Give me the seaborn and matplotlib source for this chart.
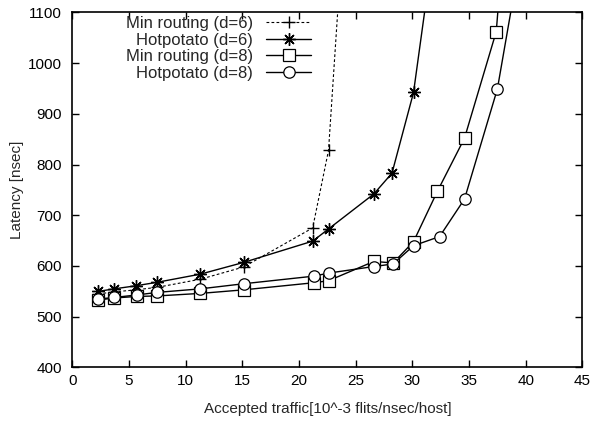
import matplotlib
matplotlib.use("Agg")
import matplotlib.pyplot as plt
import seaborn as sns
import pandas as pd

# Accepted traffic [10^-3 flits/nsec/host] and latency [nsec] per routing scheme
min6_x = [2.3, 3.7, 5.6, 7.5, 11.3, 15.1, 21.2, 22.6, 24.0]
min6_y = [545, 549, 553, 558, 574, 598, 675, 828, 1300]

hot6_x = [2.3, 3.7, 5.6, 7.5, 11.3, 15.1, 21.2, 22.6, 26.6, 28.2, 30.1, 32.0]
hot6_y = [550, 555, 561, 568, 584, 607, 649, 673, 742, 783, 942, 1250]

min8_x = [2.3, 3.7, 5.7, 7.5, 11.3, 15.1, 21.3, 22.6, 26.6, 28.3, 30.1, 32.2, 34.6, 37.4, 38.5]
min8_y = [533, 537, 540, 541, 546, 553, 567, 571, 609, 606, 648, 747, 852, 1062, 1370]

hot8_x = [2.3, 3.7, 5.7, 7.5, 11.3, 15.1, 21.3, 22.6, 26.6, 28.3, 30.1, 32.4, 34.6, 37.5, 40.0]
hot8_y = [535, 538, 543, 548, 555, 565, 580, 586, 599, 604, 640, 658, 732, 949, 1270]

labels = ["Min routing (d=6)", "Hotpotato (d=6)", "Min routing (d=8)", "Hotpotato (d=8)"]

x_ticks = list(range(0, 50, 5))
y_ticks = list(range(400, 1200, 100))

FS = 11
LEG_FS = 12

sns.set_style("ticks")
plt.rcParams["font.family"] = ["Liberation Sans", "DejaVu Sans"]
plt.rcParams["font.size"] = FS

fig = plt.figure(figsize=(5.93, 4.24), dpi=100)
ax = fig.add_axes([0.1221, 0.1333, 0.8600, 0.8377])

series = [
    (min6_x, min6_y, dict(marker="+", ms=9, mew=1.0, lw=0.8, dashes=(2.5, 2.0))),
    (hot6_x, hot6_y, dict(marker=(8, 2, 0), ms=9, mew=1.0, lw=1.0)),
    (min8_x, min8_y, dict(marker="s", ms=8.2, mew=0.9, lw=1.0, mfc="white")),
    (hot8_x, hot8_y, dict(marker="o", ms=8.2, mew=0.9, lw=1.0, mfc="white")),
]

for (xs, ys, style), lab in zip(series, labels):
    df = pd.DataFrame({"traffic": xs, "latency": ys})
    sns.lineplot(data=df, x="traffic", y="latency", ax=ax, color="black",
                 mec="black", label=lab, estimator=None, sort=False, **style)

ax.set_xlim(0, 45)
ax.set_ylim(400, 1100)
ax.set_xticks(x_ticks)
ax.set_yticks(y_ticks)
ax.tick_params(direction="in", length=5, width=1.0, top=True, right=True,
               colors="black", labelsize=FS)
ax.tick_params(axis="x", pad=4.5)
ax.tick_params(axis="y", pad=7.5)
for sp in ax.spines.values():
    sp.set_visible(True)
    sp.set_linewidth(1.2)
    sp.set_color("black")

ax.set_xlabel("Accepted traffic[10^-3 flits/nsec/host]", fontsize=FS, labelpad=10.5)
ax.set_ylabel("Latency [nsec]", fontsize=FS, labelpad=3)

leg = ax.legend(loc="upper right", bbox_to_anchor=(0.468, 0.99), frameon=False,
                markerfirst=False, handlelength=2.7, handletextpad=0.78,
                labelspacing=0.1, borderpad=0, borderaxespad=0, fontsize=LEG_FS)

fig.savefig("out.png", dpi=100)
